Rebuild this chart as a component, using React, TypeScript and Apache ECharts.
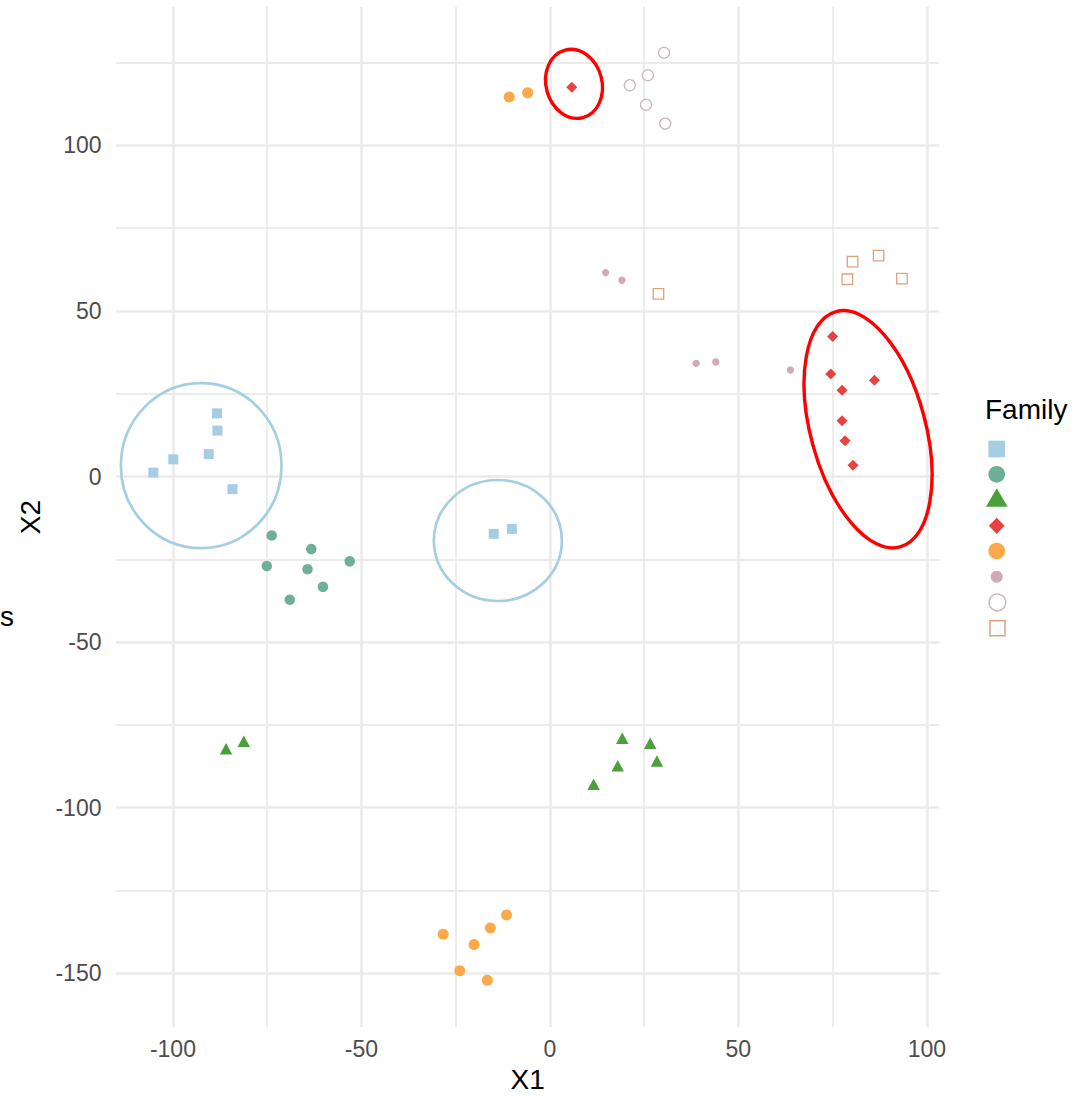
import { useEffect, useRef } from "react";
import * as echarts from "echarts";

// Axis ranges and tick positions
const xRange = [-115.1, 103.3];
const yRange = [-166.3, 141.9];
const xTickValues = [-100, -50, 0, 50, 100];
const yTickValues = [-150, -100, -50, 0, 50, 100];
const xMinorValues = [-75, -25, 25, 75];
const yMinorValues = [-125, -75, -25, 25, 75, 125];

// Points per family: [X1, X2]
const familyA: [number, number][] = [
  [-105.2, 1.2], [-99.9, 5.2], [-90.5, 6.8], [-88.2, 13.9],
  [-88.3, 19.1], [-84.2, -3.8], [-14.9, -17.3], [-10.1, -15.8],
];
const familyB: [number, number][] = [
  [-73.8, -17.8], [-63.3, -21.9], [-53.1, -25.6], [-75.1, -27.0],
  [-64.3, -28.0], [-60.2, -33.3], [-69.0, -37.2],
];
const familyC: [number, number][] = [
  [-85.9, -82.2], [-81.2, -79.9], [19.2, -79.0], [26.6, -80.5],
  [28.4, -85.9], [18.0, -87.3], [11.6, -92.9],
];
const familyD: [number, number][] = [
  [5.8, 117.6], [75.0, 42.3], [74.5, 31.0], [77.5, 26.1],
  [86.1, 29.1], [77.5, 16.9], [78.3, 10.8], [80.4, 3.4],
];
const familyE: [number, number][] = [
  [-10.8, 114.6], [-5.9, 115.9], [-28.3, -138.2], [-11.5, -132.4],
  [-15.8, -136.3], [-20.1, -141.3], [-23.9, -149.2], [-16.6, -152.1],
];
const familyF: [number, number][] = [
  [14.8, 61.6], [19.1, 59.3], [38.8, 34.2], [44.0, 34.6], [63.8, 32.2],
];
const familyG: [number, number][] = [
  [21.2, 118.2], [26.0, 121.2], [30.3, 128.0], [25.5, 112.3], [30.6, 106.6],
];
const familyH: [number, number][] = [
  [28.8, 55.2], [80.3, 64.9], [78.9, 59.6], [87.2, 66.7], [93.4, 59.8],
];

const FONT = "'Liberation Sans', Arial, Helvetica, sans-serif";
const GRID_COLOR = "#EBEBEB";

type FamilyStyle = {
  name: string;
  data: [number, number][];
  symbol: string;
  size: number | number[];
  color: string;
  border?: string;
  keySize: [number, number];
  keyCenter: [number, number];
};

const families: FamilyStyle[] = [
  { name: "F1", data: familyA, symbol: "rect", size: 10, color: "#A6CEE3", keySize: [16.7, 16.7], keyCenter: [996.7, 449] },
  { name: "F2", data: familyB, symbol: "circle", size: 10.5, color: "#6DAF97", keySize: [16.7, 16.7], keyCenter: [996.7, 474.3] },
  { name: "F3", data: familyC, symbol: "triangle", size: [12.5, 11.5], color: "#4CA03A", keySize: [21.7, 18.3], keyCenter: [996.8, 497.5] },
  { name: "F4", data: familyD, symbol: "diamond", size: 11, color: "#E8413F", keySize: [15.8, 16.3], keyCenter: [996.7, 525.8] },
  { name: "F5", data: familyE, symbol: "circle", size: 11, color: "#FCA94A", keySize: [16.7, 16.7], keyCenter: [996.7, 551] },
  { name: "F6", data: familyF, symbol: "circle", size: 7.3, color: "#D3A8B9", keySize: [12, 12], keyCenter: [996.7, 576.7] },
  { name: "F7", data: familyG, symbol: "circle", size: 11, color: "#FFFFFF", border: "#CDB6C1", keySize: [16.7, 16.7], keyCenter: [996.7, 601.7] },
  { name: "F8", data: familyH, symbol: "rect", size: 10.5, color: "#FFFFFF", border: "#DDA27E", keySize: [15, 15], keyCenter: [996.7, 627.5] },
];

// Highlight rings around groups of points: centre in data units, radii in pixels
const highlights = [
  { x: -92.5, y: 3.3, rx: 80.3, ry: 82.5, rotation: 0, color: "#A6CEE3", width: 2.7 },
  { x: -13.8, y: -19.3, rx: 64, ry: 60.5, rotation: 0, color: "#A6CEE3", width: 2.7 },
  { x: 6.4, y: 118.6, rx: 28.0, ry: 34.9, rotation: 0.26, color: "#FF0000", width: 3.4 },
  { x: 84.4, y: 14.3, rx: 57.4, ry: 122, rotation: 0.265, color: "#FF0000", width: 3.4 },
];

function gridLine(axis: "xAxis" | "yAxis", value: number, width: number) {
  return { [axis]: value, lineStyle: { color: GRID_COLOR, width, type: "solid" } };
}

export default function App() {
  const ref = useRef<HTMLDivElement>(null);

  useEffect(() => {
    if (!ref.current) return;
    const chart = echarts.init(ref.current, null, { renderer: "svg" });

    // Panel grid, kept underneath the points
    const gridSeries = {
      type: "scatter",
      name: "__grid",
      data: [],
      z: 0,
      silent: true,
      markLine: {
        z: 0,
        silent: true,
        symbol: ["none", "none"],
        label: { show: false },
        animation: false,
        data: [
          ...xMinorValues.map((v) => gridLine("xAxis", v, 1.8)),
          ...yMinorValues.map((v) => gridLine("yAxis", v, 1.8)),
          ...xTickValues.map((v) => gridLine("xAxis", v, 2.6)),
          ...yTickValues.map((v) => gridLine("yAxis", v, 2.6)),
        ],
      },
    };

    const pointSeries = families.map((f) => ({
      type: "scatter",
      name: f.name,
      data: f.data,
      symbol: f.symbol,
      symbolSize: f.size,
      z: 6,
      itemStyle: f.border
        ? { color: f.color, borderColor: f.border, borderWidth: 1.3, opacity: 1 }
        : { color: f.color, opacity: 1 },
    }));

    const legends = families.map((f) => ({
      show: true,
      left: f.keyCenter[0] - f.keySize[0] / 2,
      top: f.keyCenter[1] - f.keySize[1] / 2,
      padding: 0,
      itemGap: 0,
      itemWidth: f.keySize[0],
      itemHeight: f.keySize[1],
      selectedMode: false,
      formatter: () => "",
      textStyle: { fontSize: 1 },
      data: [
        {
          name: f.name,
          icon: f.symbol,
          itemStyle: f.border
            ? { color: f.color, borderColor: f.border, borderWidth: 1.5 }
            : { color: f.color, borderWidth: 0 },
        },
      ],
    }));

    chart.setOption({
      animation: false,
      backgroundColor: "#FFFFFF",
      textStyle: { fontFamily: FONT },
      grid: {
        left: 116,
        right: 1089 - 939.3,
        top: 6.7,
        bottom: 1096 - 1027.3,
        containLabel: false,
        outerBoundsMode: "none",
      },
      xAxis: {
        type: "value",
        min: xRange[0],
        max: xRange[1],
        name: "X1",
        nameLocation: "middle",
        nameGap: 36,
        nameTextStyle: { fontSize: 28, color: "#000000", fontFamily: FONT },
        axisLine: { show: false },
        axisTick: { show: false },
        splitLine: { show: false },
        axisLabel: {
          customValues: xTickValues,
          fontSize: 23,
          color: "#4D4D4D",
          margin: 10,
          fontFamily: FONT,
        },
      },
      yAxis: {
        type: "value",
        min: yRange[0],
        max: yRange[1],
        name: "X2",
        nameLocation: "middle",
        nameRotate: 90,
        nameGap: 67,
        nameTextStyle: { fontSize: 28, color: "#000000", fontFamily: FONT },
        axisLine: { show: false },
        axisTick: { show: false },
        splitLine: { show: false },
        axisLabel: {
          customValues: yTickValues,
          fontSize: 23,
          color: "#4D4D4D",
          margin: 14.5,
          fontFamily: FONT,
        },
      },
      legend: legends,
      series: [gridSeries, ...pointSeries],
    });

    const rings = highlights.map((h) => {
      const [px, py] = chart.convertToPixel({ gridIndex: 0 }, [h.x, h.y]) as number[];
      return {
        type: "ellipse",
        x: px,
        y: py,
        rotation: h.rotation,
        silent: true,
        z: 10,
        shape: { cx: 0, cy: 0, rx: h.rx, ry: h.ry },
        style: { fill: "none", stroke: h.color, lineWidth: h.width },
      };
    });

    chart.setOption({
      graphic: [
        ...rings,
        {
          type: "text",
          x: 985,
          y: 409,
          silent: true,
          style: {
            text: "Family",
            fill: "#000000",
            font: `28px ${FONT}`,
            textVerticalAlign: "middle",
            verticalAlign: "middle",
          },
        },
        {
          type: "text",
          x: 0,
          y: 616,
          silent: true,
          style: {
            text: "s",
            fill: "#000000",
            font: `28px ${FONT}`,
            textAlign: "left",
            align: "left",
            textVerticalAlign: "middle",
            verticalAlign: "middle",
          },
        },
      ],
    });

    return () => chart.dispose();
  }, []);

  return (
    <div
      ref={ref}
      style={{ position: "absolute", left: 0, top: 0, width: 1089, height: 1096 }}
    />
  );
}
